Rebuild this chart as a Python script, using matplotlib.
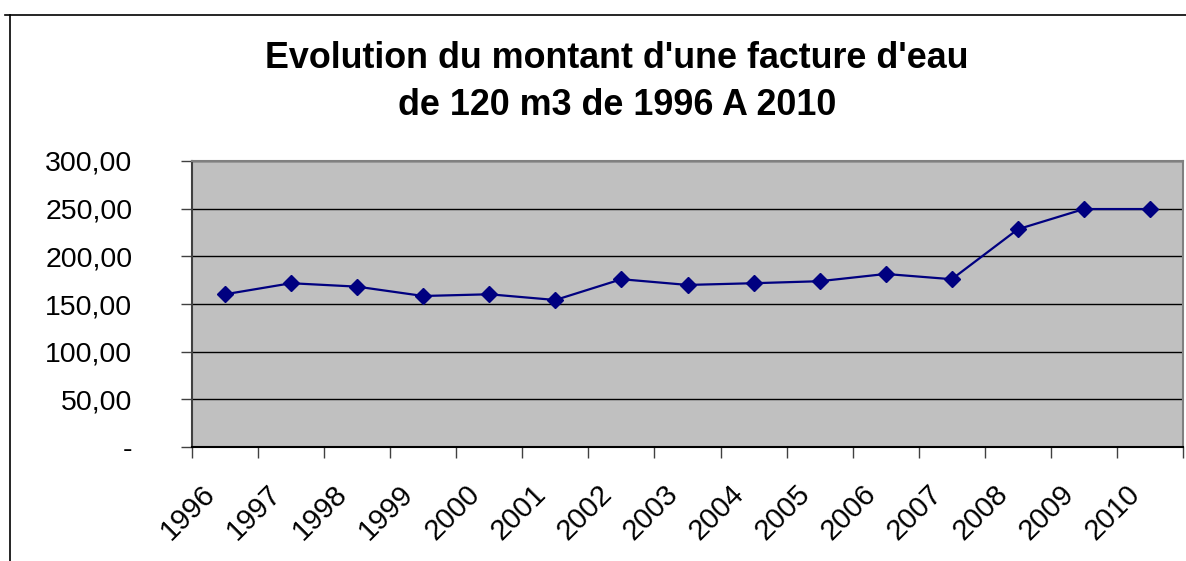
import matplotlib.pyplot as plt
from matplotlib.lines import Line2D
from matplotlib.transforms import ScaledTranslation

years = ['1996', '1997', '1998', '1999', '2000', '2001', '2002', '2003',
         '2004', '2005', '2006', '2007', '2008', '2009', '2010']
montant = [160.2, 171.8, 168.2, 158.4, 160.2, 154.2, 176.0, 170.0,
           171.8, 173.9, 181.5, 176.0, 228.4, 249.6, 249.6]
yticks = [0, 50, 100, 150, 200, 250, 300]
ylabels = ['-', '50,00', '100,00', '150,00', '200,00', '250,00', '300,00']

plt.rcParams['font.family'] = ['Liberation Sans', 'DejaVu Sans']

fig = plt.figure(figsize=(11.86, 5.61), dpi=100)
ax = fig.add_axes([192 / 1186, 1 - 447 / 561, (1183 - 192) / 1186, (447 - 161) / 561])
ax.set_facecolor('#C0C0C0')

x = list(range(len(years)))
ax.plot(x, montant, color='#000080', lw=1.6, marker='D', ms=8.5, zorder=3)

ax.set_xlim(-0.5, len(years) - 0.5)
ax.set_ylim(0, 300)
ax.set_yticks(yticks)
ax.set_yticklabels(ylabels, fontsize=20.5)
ax.yaxis.grid(True, color='black', lw=1)
ax.set_axisbelow(True)

# étiquettes des années, inclinées et décalées comme dans Excel
ax.set_xticks([i - 0.5 for i in range(len(years) + 1)])
ax.set_xticklabels([])
ax.tick_params(axis='x', length=8, width=1, color='#404040')
shift = ScaledTranslation(-24 / 100, -33 / 100, fig.dpi_scale_trans)
for xi, yr in zip(x, years):
    ax.text(xi, 0, yr, transform=ax.get_xaxis_transform() + shift,
            fontsize=21, rotation=45, ha='right', va='top', rotation_mode='anchor')

ax.tick_params(axis='y', length=8, width=1, color='#404040', pad=35)

for s in ['top', 'right']:
    ax.spines[s].set_color('#808080')
    ax.spines[s].set_linewidth(1.5)
ax.spines['left'].set_color('#404040')
ax.spines['left'].set_linewidth(1.5)
ax.spines['bottom'].set_color('black')
ax.spines['bottom'].set_linewidth(1.5)

fig.text(0.52, 1 - 82 / 561, "Evolution du montant d'une facture d'eau\nde 120 m3 de 1996 A 2010",
         ha='center', va='center', fontsize=25.8, fontweight='bold', linespacing=1.42)

# cadre du graphique
fig.add_artist(Line2D([10 / 1186, 10 / 1186], [0, 1 - 15 / 561], color='black', lw=1.2))
fig.add_artist(Line2D([5 / 1186, 1], [1 - 15 / 561, 1 - 15 / 561], color='black', lw=1.2))

fig.savefig('out.png', dpi=100)
